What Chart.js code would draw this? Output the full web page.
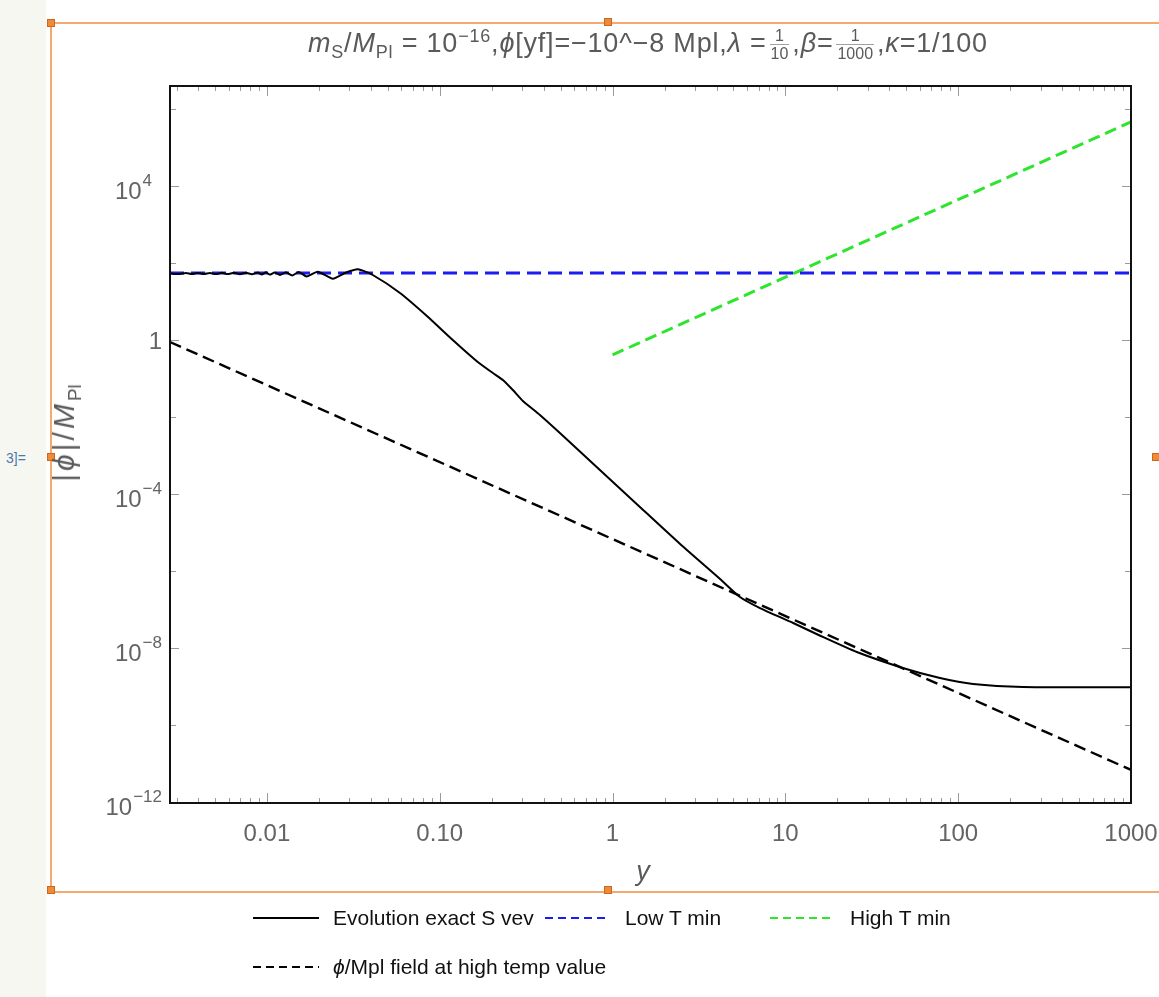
<!DOCTYPE html>
<html>
<head>
<meta charset="utf-8">
<script src="https://cdn.jsdelivr.net/npm/chart.js@4.4.1/dist/chart.umd.min.js"></script>
<style>
  html, body { margin: 0; padding: 0; background: #fff; width: 1159px; height: 997px; overflow: hidden;
    font-family: "Liberation Sans", Arial, sans-serif; }
  #strip { position: absolute; left: 0; top: 0; width: 46px; height: 997px; background: #f7f7f2; }
  #cellLabel { position: absolute; left: 6px; top: 450px; font-size: 14px; color: #4a78ab; }
  #box { position: absolute; left: 50px; top: 22px; width: 1120px; height: 867px; border: 2px solid #f2aa72; }
  .h { position: absolute; width: 6px; height: 6px; background: #ef8b36; border: 1px solid #c9681e; }
  #chart { position: absolute; left: 0; top: 0; }
  #title { position: absolute; left: 308px; top: 27px; white-space: nowrap; font-size: 27px; letter-spacing: 0.8px; color: #5a5a5a; }
  #title sup, #title sub { font-size: 18px; line-height: 0; }
  .frac { display: inline-block; vertical-align: middle; text-align: center; font-size: 16px; line-height: 17px; margin: 0 3px; letter-spacing: 0; }
  .frac span { display: block; padding: 0 1px; }
  .frac span:first-child { border-bottom: 1px solid #a0a0a0; }
  #ytitle { position: absolute; left: 64px; top: 433px; transform: translate(-50%, -50%) rotate(-90deg);
    font-size: 30px; letter-spacing: 3px; color: #5a5a5a; white-space: nowrap; }
  #ytitle sub { font-size: 19px; line-height: 0; letter-spacing: 0; }
  #xtitle { position: absolute; left: 643px; top: 871px; transform: translate(-50%, -50%);
    font-size: 27px; color: #5a5a5a; font-style: italic; }
  .lg { position: absolute; font-size: 21px; color: #111; line-height: 24px; white-space: nowrap; }
  .ls { position: absolute; }
</style>
</head>
<body>
<div id="strip"></div>
<div id="cellLabel">3]=</div>
<div id="box"></div>
<div class="h" style="left:47px;top:19px"></div>
<div class="h" style="left:604px;top:18px"></div>
<div class="h" style="left:47px;top:453px"></div>
<div class="h" style="left:1152px;top:453px"></div>
<div class="h" style="left:47px;top:886px"></div>
<div class="h" style="left:604px;top:886px"></div>

<canvas id="chart" width="1159" height="997"></canvas>

<div id="title"><i>m</i><sub>S</sub>/<i>M</i><sub>Pl</sub> = 10<sup>&minus;16</sup>,<i>&#981;</i>[yf]=&minus;10^&minus;8 Mpl,<i>&lambda;</i> =<span class="frac"><span>1</span><span>10</span></span>,<i>&beta;</i>=<span class="frac"><span>1</span><span>1000</span></span>,<i>&kappa;</i>=1/100</div>
<div id="ytitle">|<i>&#981;</i>|/<i>M</i><sub>Pl</sub></div>
<div id="xtitle">y</div>

<svg class="ls" style="left:253px;top:908px" width="66" height="20"><line x1="0" y1="10" x2="66" y2="10" stroke="#000" stroke-width="2"/></svg>
<div class="lg" style="left:333px;top:906px">Evolution exact S vev</div>
<svg class="ls" style="left:545px;top:908px" width="65" height="20"><line x1="0" y1="10" x2="65" y2="10" stroke="#1c1cf0" stroke-width="2" stroke-dasharray="8,5"/></svg>
<div class="lg" style="left:625px;top:906px">Low T min</div>
<svg class="ls" style="left:770px;top:908px" width="65" height="20"><line x1="0" y1="10" x2="65" y2="10" stroke="#2ee52e" stroke-width="2" stroke-dasharray="8,5"/></svg>
<div class="lg" style="left:850px;top:906px">High T min</div>
<svg class="ls" style="left:253px;top:957px" width="66" height="20"><line x1="0" y1="10" x2="66" y2="10" stroke="#000" stroke-width="2" stroke-dasharray="8,5"/></svg>
<div class="lg" style="left:333px;top:955px"><i>&#981;</i>/Mpl field at high temp value</div>

<script>
// axis limits (log-log)
const xMin = 0.00275;
const xMax = 1000;
const yMin = 9.4e-13;
const yMax = 3.95e6;

// exact evolution of the S vev
const evolX = [0.00275, 0.00314, 0.00340, 0.00368, 0.00399, 0.00432, 0.00468, 0.00507, 0.00549, 0.00594,
  0.00644, 0.00698, 0.00756, 0.00819, 0.00887, 0.00935, 0.00987, 0.0104, 0.0111, 0.0119,
  0.0129, 0.0140, 0.0153, 0.0170, 0.0197, 0.0241, 0.0283, 0.0336, 0.0410, 0.0589,
  0.0843, 0.119, 0.166, 0.203, 0.232, 0.265, 0.303, 0.380, 0.496, 0.845,
  1.44, 2.46, 4.19, 5.46, 7.13, 11.1, 15.8, 25.9, 47.9, 78.5,
  122, 237, 1000];
const evolY = [53.3, 51.8, 55.0, 51.8, 55.0, 51.8, 55.0, 51.5, 55.3, 51.5,
  55.5, 51.2, 55.8, 51.0, 56.2, 50.2, 57.0, 49.8, 56.6, 48.7,
  57.3, 47.3, 58.3, 44.5, 59.4, 39.1, 55.0, 68.5, 48.7, 16.6,
  4.20, 1.0, 0.268, 0.139, 0.0914, 0.0502, 0.0261, 0.0113, 0.00384, 4.20e-4,
  4.59e-5, 5.02e-6, 6.19e-7, 2.11e-7, 1.09e-7, 4.46e-8, 2.11e-8, 7.87e-9, 3.03e-9, 1.66e-9,
  1.16e-9, 9.7e-10, 9.6e-10];

// minima and high temperature field value
const lowTX = [0.00275, 1000];
const lowTY = [55, 55];
const highTX = [1, 1000];
const highTY = [0.41, 4.6e5];
const hiTempX = [0.00275, 1000];
const hiTempY = [0.887, 6.8e-12];

// ticks
const xTickValues = [0.01, 0.1, 1, 10, 100, 1000];
const xTickLabels = ['0.01', '0.10', '1', '10', '100', '1000'];
const yTickExponents = [4, 0, -4, -8, -12];
const yMarkExponents = [6, 4, 2, 0, -2, -4, -6, -8, -10, -12];

const pts = (xs, ys) => xs.map((v, i) => ({ x: v, y: ys[i] }));
const FONT = '"Liberation Sans", Arial, sans-serif';
const GRAY = '#646464';

const framePlugin = {
  id: 'frame',
  afterDatasetsDraw(chart) {
    const { ctx, chartArea: a, scales: { x, y } } = chart;
    ctx.save();
    const seg = (x1, y1, x2, y2) => { ctx.beginPath(); ctx.moveTo(x1, y1); ctx.lineTo(x2, y2); ctx.stroke(); };

    // x ticks, major at decades and minor in between, pointing inward
    ctx.strokeStyle = '#9a9a9a';
    ctx.lineWidth = 1;
    for (let e = -3; e <= 3; e++) {
      for (let k = 1; k <= 9; k++) {
        const v = k * Math.pow(10, e);
        if (v < x.min || v > x.max * 1.0001) continue;
        const px = Math.round(x.getPixelForValue(v)) + 0.5;
        const len = k === 1 ? 10 : 5;
        seg(px, a.bottom, px, a.bottom - len);
        seg(px, a.top, px, a.top + len);
      }
    }
    // y ticks
    yMarkExponents.forEach(e => {
      const py = Math.round(y.getPixelForValue(Math.pow(10, e))) + 0.5;
      const len = yTickExponents.includes(e) ? 9 : 6;
      seg(a.left, py, a.left + len, py);
      seg(a.right, py, a.right - len, py);
    });

    // frame
    ctx.strokeStyle = '#111';
    ctx.lineWidth = 2;
    ctx.strokeRect(a.left, a.top, a.right - a.left, a.bottom - a.top);

    // x tick labels
    ctx.fillStyle = GRAY;
    ctx.textBaseline = 'alphabetic';
    ctx.textAlign = 'center';
    ctx.font = '24px ' + FONT;
    xTickValues.forEach((v, i) => {
      ctx.fillText(xTickLabels[i], x.getPixelForValue(v), a.bottom + 38);
    });

    // y tick labels, powers of ten (box width always leaves room for a minus sign)
    const right = a.left - 8;
    ctx.textAlign = 'left';
    yTickExponents.forEach(e => {
      const py = y.getPixelForValue(Math.pow(10, e));
      if (e === 0) {
        ctx.font = '24px ' + FONT;
        ctx.fillText('1', right - ctx.measureText('1').width, py + 9);
        return;
      }
      const sup = (e < 0 ? '\u2212' : '') + Math.abs(e);
      ctx.font = '17px ' + FONT;
      const boxW = ctx.measureText('\u2212' + Math.abs(e)).width;
      ctx.font = '24px ' + FONT;
      const bw = ctx.measureText('10').width;
      const left = right - boxW - bw - 1;
      ctx.fillText('10', left, py + 13);
      ctx.font = '17px ' + FONT;
      ctx.fillText(sup, left + bw + 1, py);
    });
    ctx.restore();
  }
};

new Chart(document.getElementById('chart'), {
  type: 'line',
  data: {
    datasets: [
      { label: 'Evolution exact S vev', data: pts(evolX, evolY), borderColor: '#000', borderWidth: 2,
        pointRadius: 0, tension: 0.2, fill: false },
      { label: 'Low T min', data: pts(lowTX, lowTY), borderColor: '#1c1cf0', borderWidth: 3,
        borderDash: [14, 7], pointRadius: 0, fill: false },
      { label: 'High T min', data: pts(highTX, highTY), borderColor: '#2ee52e', borderWidth: 3,
        borderDash: [12, 6], pointRadius: 0, fill: false },
      { label: 'phi/Mpl field at high temp value', data: pts(hiTempX, hiTempY), borderColor: '#000', borderWidth: 2.4,
        borderDash: [12, 6], pointRadius: 0, fill: false }
    ]
  },
  options: {
    responsive: false,
    animation: false,
    layout: { padding: { left: 170, top: 86, right: 28, bottom: 194 } },
    plugins: { legend: { display: false }, tooltip: { enabled: false }, title: { display: false } },
    scales: {
      x: { type: 'logarithmic', min: xMin, max: xMax, display: false },
      y: { type: 'logarithmic', min: yMin, max: yMax, display: false }
    }
  },
  plugins: [framePlugin]
});
</script>
</body>
</html>
